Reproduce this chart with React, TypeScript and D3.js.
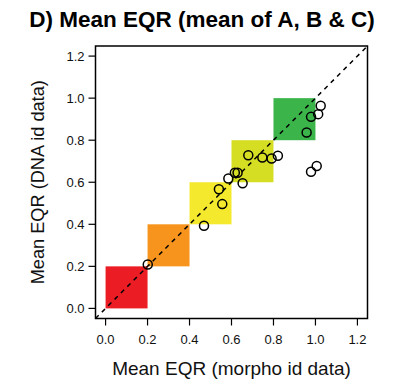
import React from "react";
import * as d3 from "d3";

// Mean EQR per site: morphological identification vs DNA identification
const morphoEQR = [1.025, 1.013, 0.979, 0.958, 1.006, 0.979, 0.821, 0.791, 0.747, 0.68, 0.629, 0.616, 0.585, 0.653, 0.54, 0.201, 0.469, 0.556];
const dnaEQR = [0.964, 0.924, 0.911, 0.837, 0.677, 0.65, 0.726, 0.713, 0.718, 0.728, 0.645, 0.645, 0.618, 0.595, 0.567, 0.209, 0.393, 0.496];

// Ecological status classes (lower bound, upper bound) and their colours
const classLower = [0.0, 0.2, 0.4, 0.6, 0.8];
const classUpper = [0.2, 0.4, 0.6, 0.8, 1.0];
const classColors = ["#ec1c24", "#f7941d", "#f4e92d", "#d5de23", "#3bb44a"];

const tickValues = [0, 0.2, 0.4, 0.6, 0.8, 1.0, 1.2];

const title = "D) Mean EQR (mean of A, B & C)";
const xTitle = "Mean EQR (morpho id data)";
const yTitle = "Mean EQR (DNA id data)";

const W = 398;
const H = 380;
const left = 95.5;
const right = 367.5;
const top = 46;
const bottom = 318.5;
const font = "'Liberation Sans', Arial, Helvetica, sans-serif";

export default function App() {
  const domain: [number, number] = [-0.048, 1.248];
  const x = d3.scaleLinear().domain(domain).range([left, right]);
  const y = d3.scaleLinear().domain(domain).range([bottom, top]);
  const fmt = d3.format(".1f");

  return (
    <svg
      width={W}
      height={H}
      style={{ position: "absolute", left: 0, top: 0, background: "#fff" }}
      fontFamily={font}
    >
      <defs>
        <clipPath id="plotArea">
          <rect x={left} y={top} width={right - left} height={bottom - top} />
        </clipPath>
      </defs>

      {/* status class squares along the diagonal */}
      {classLower.map((lo, i) => (
        <rect
          key={i}
          x={x(lo)}
          y={y(classUpper[i])}
          width={x(classUpper[i]) - x(lo)}
          height={y(lo) - y(classUpper[i])}
          fill={classColors[i]}
        />
      ))}

      {/* 1:1 line */}
      <line
        x1={x(domain[0])}
        y1={y(domain[0])}
        x2={x(domain[1])}
        y2={y(domain[1])}
        stroke="#000"
        strokeWidth={1.5}
        strokeDasharray="4.5,4.5"
        clipPath="url(#plotArea)"
      />

      {/* sites */}
      {morphoEQR.map((v, i) => (
        <circle
          key={i}
          cx={x(v)}
          cy={y(dnaEQR[i])}
          r={4.5}
          fill="none"
          stroke="#000"
          strokeWidth={1.5}
        />
      ))}

      {/* plot frame */}
      <rect
        x={left}
        y={top}
        width={right - left}
        height={bottom - top}
        fill="none"
        stroke="#000"
        strokeWidth={1.5}
      />

      {/* x axis */}
      {tickValues.map((t) => (
        <g key={"x" + t}>
          <line x1={x(t)} x2={x(t)} y1={bottom} y2={bottom + 7} stroke="#000" strokeWidth={1.2} />
          <text x={x(t)} y={bottom + 25} textAnchor="middle" fontSize={13} fill="#111">
            {fmt(t)}
          </text>
        </g>
      ))}

      {/* y axis */}
      {tickValues.map((t) => (
        <g key={"y" + t}>
          <line x1={left - 7} x2={left} y1={y(t)} y2={y(t)} stroke="#000" strokeWidth={1.2} />
          <text x={left - 11} y={y(t) + 4.5} textAnchor="end" fontSize={13} fill="#111">
            {fmt(t)}
          </text>
        </g>
      ))}

      {/* titles */}
      <text x={202} y={27} textAnchor="middle" fontSize={22.5} fontWeight="bold" fill="#000">
        {title}
      </text>
      <text x={(left + right) / 2} y={375} textAnchor="middle" fontSize={19} fill="#111">
        {xTitle}
      </text>
      <text
        transform={`translate(44, ${(top + bottom) / 2}) rotate(-90)`}
        textAnchor="middle"
        fontSize={18.2}
        fill="#111"
      >
        {yTitle}
      </text>
    </svg>
  );
}
